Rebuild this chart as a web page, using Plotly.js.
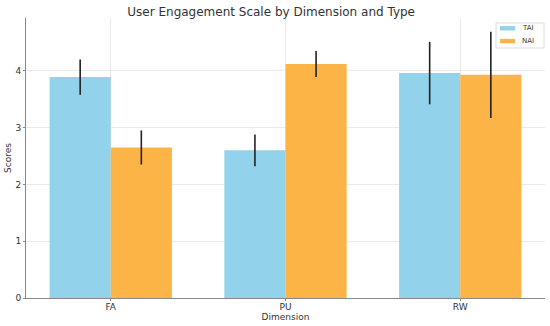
<!DOCTYPE html>
<html>
<head>
<meta charset="utf-8">
<script src="https://cdn.plot.ly/plotly-3.0.1.min.js"></script>
<style>html,body{margin:0;padding:0;background:#fff;}#chart{width:550px;height:326px;}</style>
</head>
<body>
<div id="chart"></div>
<script>
const categories = ["FA", "PU", "RW"];
const taiValues = [3.89, 2.60, 3.96];
const taiErrors = [0.31, 0.28, 0.55];
const naiValues = [2.65, 4.12, 3.93];
const naiErrors = [0.30, 0.23, 0.76];
const seriesNames = ["TAI", "NAI"];
const seriesColors = ["#93d2eb", "#fdb446"];
const yTicks = [0, 1, 2, 3, 4];

const font = "DejaVu Sans, sans-serif";
const idx = categories.map((c, i) => i);
const M = {l: 26, r: 5, t: 18, b: 28};
const W = 550, H = 326;
const pw = W - M.l - M.r, ph = H - M.t - M.b;
const px = v => (v - M.l) / pw;
const py = v => (H - M.b - v) / ph;

const traces = [
  {
    type: "bar", name: seriesNames[0],
    x: idx.map(i => i - 0.175), y: taiValues, width: 0.35,
    marker: {color: seriesColors[0], line: {width: 0}},
    error_y: {type: "data", array: taiErrors, visible: true, color: "#222", thickness: 1.6, width: 0}
  },
  {
    type: "bar", name: seriesNames[1],
    x: idx.map(i => i + 0.175), y: naiValues, width: 0.35,
    marker: {color: seriesColors[1], line: {width: 0}},
    error_y: {type: "data", array: naiErrors, visible: true, color: "#222", thickness: 1.6, width: 0}
  }
];

// custom compact legend (matplotlib style)
const shapes = [{
  type: "rect", xref: "paper", yref: "paper",
  x0: px(496), x1: px(544), y0: py(23), y1: py(48),
  fillcolor: "rgba(255,255,255,0.85)", line: {color: "#dcdcdc", width: 1}, layer: "above"
}];
const annotations = [];
seriesNames.forEach((name, k) => {
  const cy = 28.3 + k * 12.8;
  shapes.push({
    type: "rect", xref: "paper", yref: "paper",
    x0: px(500), x1: px(515), y0: py(cy - 2.2), y1: py(cy + 2.2),
    fillcolor: seriesColors[k], line: {width: 0}, layer: "above"
  });
  annotations.push({
    xref: "paper", yref: "paper", x: px(520), y: py(cy), xanchor: "left", yanchor: "middle",
    text: name, showarrow: false, font: {family: font, size: 7, color: "#333"}
  });
});

const layout = {
  width: W, height: H,
  margin: M,
  paper_bgcolor: "#fff", plot_bgcolor: "#fff",
  barmode: "overlay",
  showlegend: false,
  font: {family: font, size: 9, color: "#333"},
  title: {text: "User Engagement Scale by Dimension and Type", font: {family: font, size: 12, color: "#333"},
          x: 0.493, xref: "container", y: 0.965, yref: "container", yanchor: "middle"},
  xaxis: {
    range: [-0.485, 2.485], tickmode: "array", tickvals: idx, ticktext: categories,
    showgrid: true, gridcolor: "#ebebeb", gridwidth: 1,
    showline: true, linecolor: "#888", linewidth: 1,
    ticks: "outside", ticklen: 2, tickcolor: "#888", ticklabelstandoff: -2,
    zeroline: false, tickfont: {size: 9, color: "#333"},
    title: {text: "Dimension", font: {size: 9, color: "#333"}, standoff: 1}
  },
  yaxis: {
    range: [0, 4.93], tickmode: "array", tickvals: yTicks,
    showgrid: true, gridcolor: "#ebebeb", gridwidth: 1,
    showline: true, linecolor: "#888", linewidth: 1,
    ticks: "outside", ticklen: 2, tickcolor: "#888",
    zeroline: false, tickfont: {size: 9, color: "#333"},
    title: {text: "Scores", font: {size: 9, color: "#333"}, standoff: 2}
  },
  shapes: shapes,
  annotations: annotations
};

Plotly.newPlot("chart", traces, layout, {displayModeBar: false, staticPlot: true});
</script>
</body>
</html>
